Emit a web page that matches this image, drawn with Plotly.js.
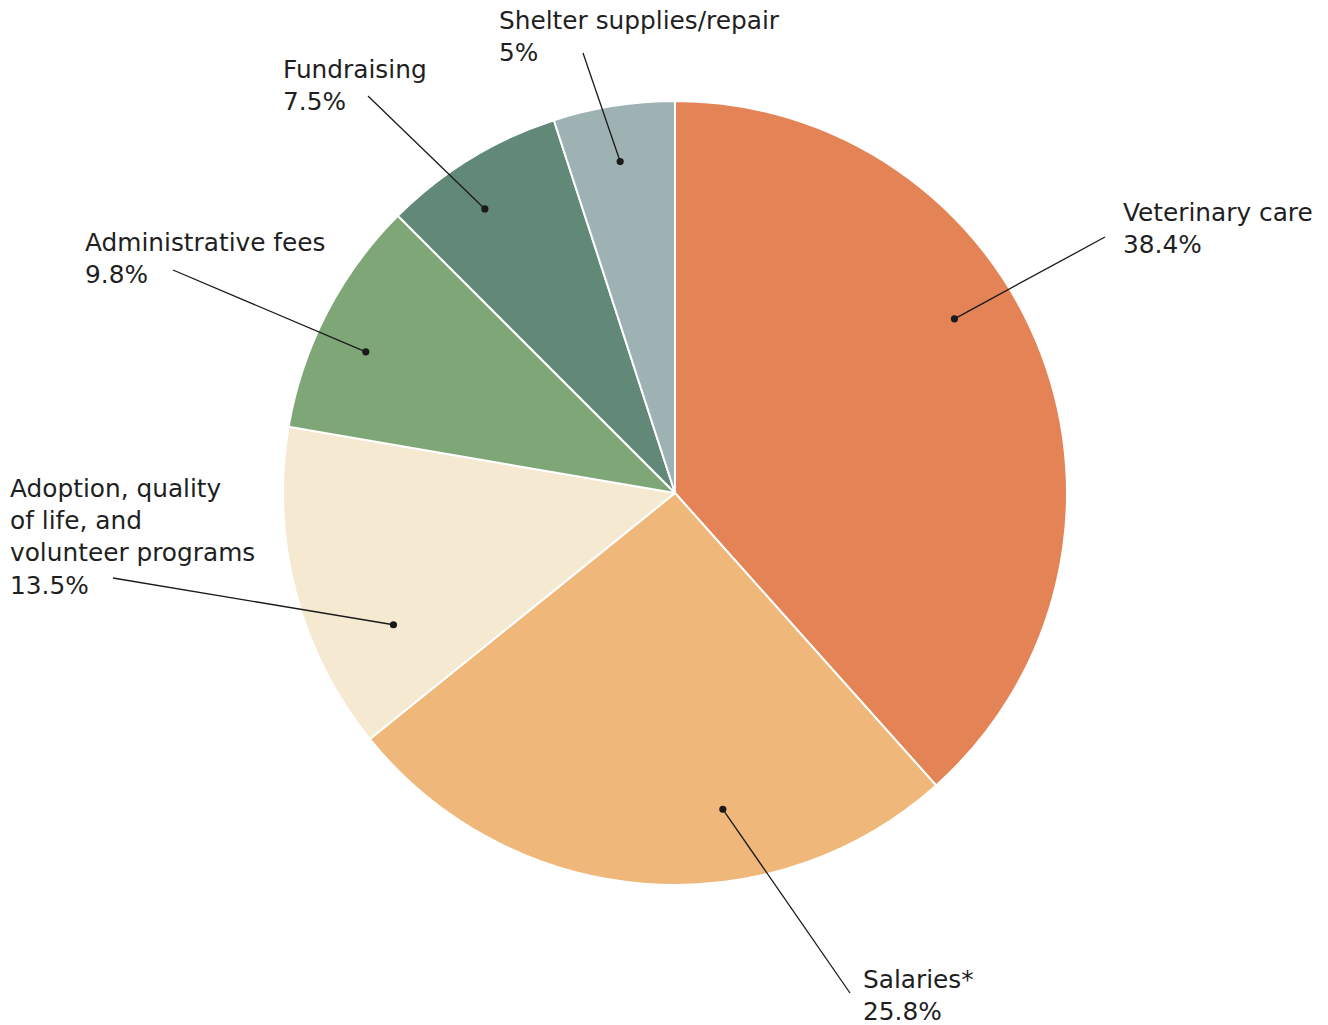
<!DOCTYPE html>
<html><head><meta charset="utf-8">
<script src="https://cdn.plot.ly/plotly-3.0.1.min.js"></script>
<style>html,body{margin:0;padding:0;background:#fff}#chart{width:1328px;height:1025px}</style>
</head><body><div id="chart"></div>
<script>
// Data
const categories = ["Veterinary care","Salaries*","Adoption, quality\nof life, and\nvolunteer programs","Administrative fees","Fundraising","Shelter supplies/repair"];
const values = [38.4, 25.8, 13.5, 9.8, 7.5, 5];
const valueLabels = ["38.4%","25.8%","13.5%","9.8%","7.5%","5%"];
const colors = ["#E38356","#EFB87A","#F6E9D1","#7FA677","#628877","#9EB2B4"];

// Label layout (pixel positions of text and leader-line ends; dot placement within slice)
const W = 1328, H = 1025;
const CX = 675, CY = 493, R = 392;
const labelLayout = [
  {at:0.42, r:0.84, ex:1105, ey:237, tx:1121, ty:229},
  {at:0.357, r:0.816, ex:850, ey:993, tx:861, ty:995},
  {at:0.284, r:0.793, ex:113, ey:578, tx:8, ty:537},
  {at:0.42, r:0.867, ex:173, ey:270, tx:83, ty:258},
  {at:0.415, r:0.872, ex:368, ey:96, tx:281, ty:86},
  {at:0.478, r:0.857, ex:583, ey:53, tx:497, ty:36}
];

const px = x => x / W;
const py = y => 1 - y / H;

const total = values.reduce((a,b)=>a+b,0);
const shapes = [], annotations = [];
let cum = 0;
values.forEach((v,i) => {
  const start = cum/total*360, span = v/total*360;
  cum += v;
  const L = labelLayout[i];
  const th = (start + L.at*span) * Math.PI/180;
  const dx = CX + L.r*R*Math.sin(th), dy = CY - L.r*R*Math.cos(th);
  shapes.push({type:'line', xref:'paper', yref:'paper', x0:px(dx), y0:py(dy), x1:px(L.ex), y1:py(L.ey), line:{color:'#1a1a1a', width:1.3}});
  const rd = 3.6;
  shapes.push({type:'circle', xref:'paper', yref:'paper', x0:px(dx-rd), x1:px(dx+rd), y0:py(dy+rd), y1:py(dy-rd), fillcolor:'#1a1a1a', line:{color:'#1a1a1a', width:0}});
  annotations.push({xref:'paper', yref:'paper', x:px(L.tx), y:py(L.ty), xanchor:'left', yanchor:'middle', align:'left', showarrow:false,
    text: categories[i].split('\n').join('<br>') + '<br>' + valueLabels[i],
    font:{family:'DejaVu Sans, sans-serif', size:24.8, color:'#1f1f1f'}});
});

const data = [{
  type:'pie', values: values, labels: categories, sort:false, direction:'clockwise', rotation:0,
  marker:{colors: colors, line:{color:'#ffffff', width:2}},
  textinfo:'none', hoverinfo:'none', showlegend:false,
  domain:{x:[(CX-R)/W,(CX+R)/W], y:[1-(CY+R)/H, 1-(CY-R)/H]}
}];
const layout = {width:W, height:H, margin:{l:0,r:0,t:0,b:0}, paper_bgcolor:'#fff', showlegend:false, shapes, annotations};
Plotly.newPlot('chart', data, layout, {displayModeBar:false, staticPlot:true});
</script></body></html>
